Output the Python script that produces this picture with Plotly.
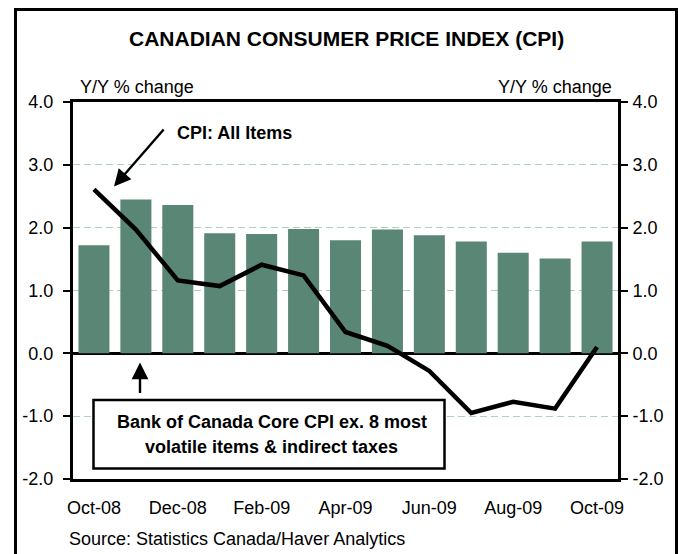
import plotly.graph_objects as go

months = ["Oct-08", "Nov-08", "Dec-08", "Jan-09", "Feb-09", "Mar-09", "Apr-09",
          "May-09", "Jun-09", "Jul-09", "Aug-09", "Sep-09", "Oct-09"]
core_cpi = [1.72, 2.45, 2.36, 1.91, 1.90, 1.98, 1.80, 1.97, 1.88, 1.78, 1.60, 1.51, 1.78]
cpi_all = [2.61, 1.97, 1.16, 1.07, 1.41, 1.24, 0.34, 0.12, -0.28, -0.95, -0.77, -0.88, 0.10]
y_tickvals = [-2, -1, 0, 1, 2, 3, 4]
y_ticktext = ["-2.0", "-1.0", "0.0", "1.0", "2.0", "3.0", "4.0"]
x_tickvals = months[::2]

FONT = "Liberation Sans, Arial, sans-serif"
BAR = "#5a8676"
GRID = "#aed0c4"

W, H = 678, 554
L, R, T, B = 73, 60, 102, 75
PW = W - L - R
PH = H - T - B


def px(x):
    return (x - L) / PW


def py(y):
    return (H - B - y) / PH


fig = go.Figure()
fig.add_trace(go.Bar(x=months, y=core_cpi, marker=dict(color=BAR, line=dict(width=0)),
                     yaxis="y", showlegend=False, hoverinfo="skip"))
fig.add_trace(go.Scatter(x=months, y=cpi_all, mode="lines", line=dict(color="black", width=4.5),
                         yaxis="y2", showlegend=False, hoverinfo="skip"))

yax = dict(range=[-2, 4], tickvals=y_tickvals, ticktext=y_ticktext,
           ticks="outside", ticklen=7, tickwidth=2, tickcolor="black",
           showline=True, linewidth=3, linecolor="black",
           tickfont=dict(family=FONT, size=18, color="black"), fixedrange=True)

fig.update_layout(
    width=W, height=H,
    margin=dict(l=L, r=R, t=T, b=B),
    paper_bgcolor="white", plot_bgcolor="white",
    bargap=0.26,
    xaxis=dict(type="category", tickvals=x_tickvals, ticktext=x_tickvals,
               showline=True, mirror=True, linewidth=3, linecolor="black",
               ticks="", showgrid=False, ticklabelstandoff=10, fixedrange=True,
               tickfont=dict(family=FONT, size=18, color="black")),
    yaxis=dict(**yax, showgrid=True, gridcolor=GRID, gridwidth=1, griddash="7px,4px",
               zeroline=True, zerolinecolor="black", zerolinewidth=3, ticklabelstandoff=6),
    yaxis2=dict(**yax, overlaying="y", side="right", showgrid=False, zeroline=False,
                ticklabelstandoff=1),
)

ann = []
ann.append(dict(text="<b>CANADIAN CONSUMER PRICE INDEX (CPI)</b>", x=px(346.5), y=py(39),
                xanchor="center", yanchor="middle", font=dict(size=21)))
ann.append(dict(text="Y/Y % change", x=px(78), y=py(87), xanchor="left", yanchor="middle",
                font=dict(size=18)))
ann.append(dict(text="Y/Y % change", x=px(613.5), y=py(87), xanchor="right", yanchor="middle",
                font=dict(size=18)))
ann.append(dict(text="<b>CPI: All Items</b>", x=px(175), y=py(132.5), xanchor="left",
                yanchor="middle", font=dict(size=18)))
ann.append(dict(text="<b>Bank of Canada Core CPI ex. 8 most</b>", x=px(271.5), y=py(422),
                xanchor="center", yanchor="middle", font=dict(size=18)))
ann.append(dict(text="<b>volatile items &amp; indirect taxes</b>", x=px(271.5), y=py(447),
                xanchor="center", yanchor="middle", font=dict(size=18)))
ann.append(dict(text="Source: Statistics Canada/Haver Analytics", x=px(67), y=py(539),
                xanchor="left", yanchor="middle", font=dict(size=18)))
for a in ann:
    a.update(xref="paper", yref="paper", showarrow=False)
    a["font"].update(family=FONT, color="black")

# arrows
ann.append(dict(text="", x=px(114), y=py(186.5), xref="paper", yref="paper",
                showarrow=True, ax=51, ay=-58.5, arrowhead=2, arrowsize=1.4,
                arrowwidth=2.4, arrowcolor="black", standoff=0))
ann.append(dict(text="", x=px(140), y=py(362.5), xref="paper", yref="paper",
                showarrow=True, ax=0, ay=32, arrowhead=2, arrowsize=1.4,
                arrowwidth=2.4, arrowcolor="black", standoff=0))
fig.update_layout(annotations=ann)

fig.update_layout(shapes=[
    dict(type="rect", xref="paper", yref="paper", x0=px(93.5), x1=px(444.5),
         y0=py(468.5), y1=py(400), line=dict(color="black", width=2.5), fillcolor="white",
         layer="above"),
    dict(type="rect", xref="paper", yref="paper", x0=px(15.5), x1=px(676.5),
         y0=py(570), y1=py(9.5), line=dict(color="black", width=3), fillcolor="rgba(0,0,0,0)",
         layer="above"),
])

fig.write_html("out.html", config={"displayModeBar": False},
               post_script="document.body.style.margin='0';document.body.style.overflow='hidden';")
